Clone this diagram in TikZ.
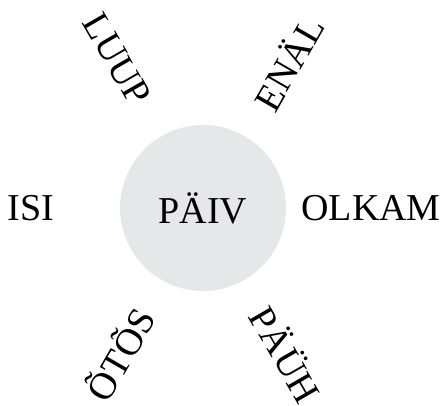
\documentclass[tikz,border=0pt]{standalone}
\usepackage{fontspec}
\setmainfont{Liberation Serif}
\usepackage{tikz}
\usetikzlibrary{calc}

\definecolor{hubgray}{HTML}{E6E7E8}

\begin{document}
\begin{tikzpicture}[x=0.5pt,y=0.5pt]
    \tikzstyle{word}=[
      anchor=center,
      inner sep=0pt,
      font=\fontsize{19}{23}\selectfont,
    ]
    \tikzstyle{hub}=[
      word,
      circle,
      fill=hubgray,
      minimum size=83pt,
    ]

    \useasboundingbox (0,0) rectangle (442,405);

    \coordinate (hubAnchor) at (203,197);

    % centre
    {
      \node[hub] (paiv) at (hubAnchor) {PÄIV};
    }

    % labels around the centre
    {
      \node[word] (olkam) at ([shift={(0:84pt)}] hubAnchor) {OLKAM};
      \node[word, rotate=60] (enal) at ([shift={(60:84pt)}] hubAnchor) {ENÄL};
      \node[word, rotate=-60] (luup) at ([shift={(120:86pt)}] hubAnchor) {LUUP};
      \node[word] (isi) at ([shift={(180:86pt)}] hubAnchor) {ISI};
      \node[word, rotate=60] (otos) at ([shift={(240:84pt)}] hubAnchor) {ÕTÕS};
      \node[word, rotate=-60] (pauh) at ([shift={(300:84pt)}] hubAnchor) {PÄÜH};
    }
\end{tikzpicture}
\end{document}
